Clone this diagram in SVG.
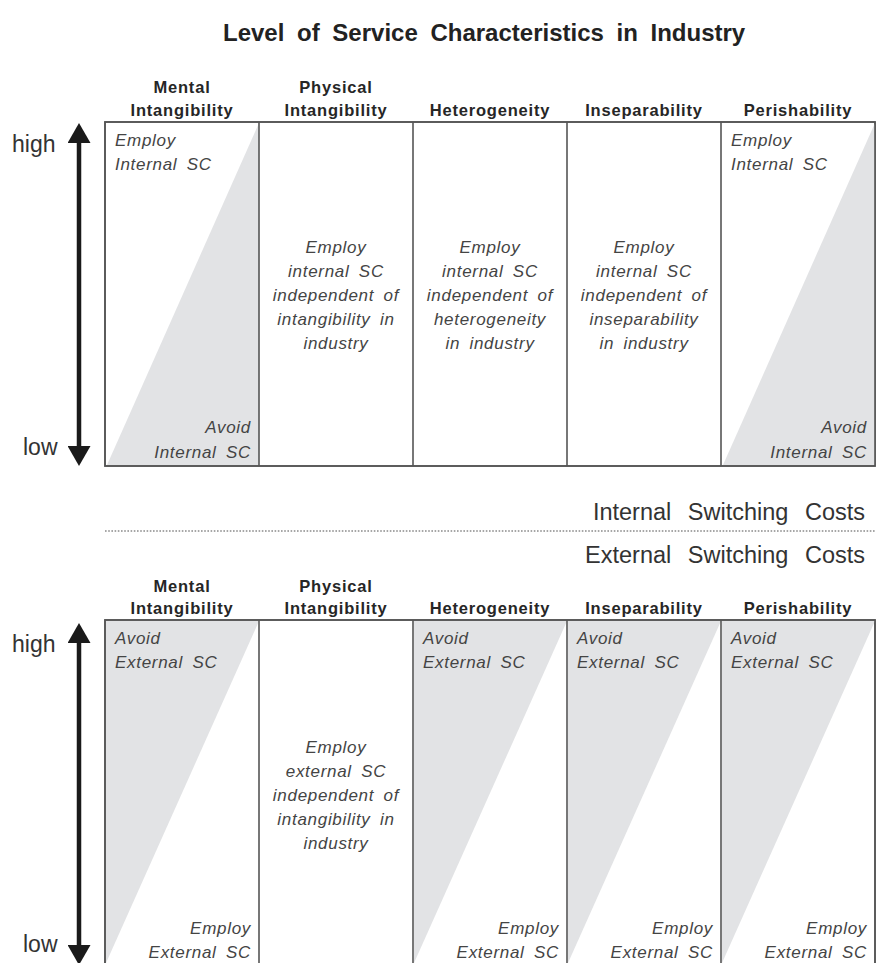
<svg xmlns="http://www.w3.org/2000/svg" width="876" height="963" viewBox="0 0 876 963">
  <style>
    .title { font-family: "Liberation Sans", Arial, sans-serif; font-weight: bold; font-size: 24px; fill: #222; word-spacing: 6px; }
    .hdr { font-family: "Liberation Sans", Arial, sans-serif; font-weight: bold; font-size: 16.5px; fill: #262626; letter-spacing: 0.8px; text-anchor: middle; }
    .axis { font-family: "Liberation Sans", Arial, sans-serif; font-size: 23px; fill: #333; }
    .band { font-family: "Liberation Sans", Arial, sans-serif; font-size: 23.5px; fill: #333; word-spacing: 10px; text-anchor: end; }
    .cell { font-family: "Liberation Sans", Arial, sans-serif; font-style: italic; font-size: 17px; fill: #444; letter-spacing: 0.7px; word-spacing: 4px; }
    .mid { text-anchor: middle; }
    .end { text-anchor: end; }
    .frame { fill: #fff; stroke: #555; stroke-width: 1.6; }
    .shade { fill: #e2e3e5; }
    .axisline { stroke: #1a1a1a; stroke-width: 4.5; marker-start: url(#head); marker-end: url(#head); }
  </style>
  <defs>
    <marker id="head" viewBox="0 0 20 23" markerWidth="20" markerHeight="23" refX="10" refY="11.5" markerUnits="userSpaceOnUse" orient="auto-start-reverse">
      <path d="M0,0 L20,11.5 L0,23 Z" fill="#1a1a1a"/>
    </marker>
  </defs>

  <rect width="876" height="963" fill="#fff"/>

  <text class="title" x="223" y="41">Level of Service Characteristics in Industry</text>

  <!-- Upper matrix: internal switching costs -->
  <g id="internal-table">
    <rect class="frame" x="105" y="122" width="770" height="344"/>
    <polygon class="shade" points="107,465 259,123 259,465"/>
    <polygon class="shade" points="723,465 875,123 875,465"/>
    <g fill="none" stroke="#555" stroke-width="1.6">
      <rect x="105" y="122" width="770" height="344"/>
      <line x1="259" y1="122" x2="259" y2="466"/>
      <line x1="413" y1="122" x2="413" y2="466"/>
      <line x1="567" y1="122" x2="567" y2="466"/>
      <line x1="721" y1="122" x2="721" y2="466"/>
    </g>
  </g>

  <g id="internal-headers">
    <text class="hdr" x="182" y="93">Mental</text>
    <text class="hdr" x="182" y="116">Intangibility</text>
    <text class="hdr" x="336" y="93">Physical</text>
    <text class="hdr" x="336" y="116">Intangibility</text>
    <text class="hdr" x="490" y="116">Heterogeneity</text>
    <text class="hdr" x="644" y="116">Inseparability</text>
    <text class="hdr" x="798" y="116">Perishability</text>
  </g>

  <g id="internal-mental">
    <text class="cell" x="115" y="146">Employ</text>
    <text class="cell" x="115" y="170">Internal SC</text>
    <text class="cell end" x="251" y="433">Avoid</text>
    <text class="cell end" x="251" y="458">Internal SC</text>
  </g>
  <g id="internal-physical">
    <text class="cell mid" x="336" y="253">Employ</text>
    <text class="cell mid" x="336" y="277">internal SC</text>
    <text class="cell mid" x="336" y="301">independent of</text>
    <text class="cell mid" x="336" y="325">intangibility in</text>
    <text class="cell mid" x="336" y="349">industry</text>
  </g>
  <g id="internal-heterogeneity">
    <text class="cell mid" x="490" y="253">Employ</text>
    <text class="cell mid" x="490" y="277">internal SC</text>
    <text class="cell mid" x="490" y="301">independent of</text>
    <text class="cell mid" x="490" y="325">heterogeneity</text>
    <text class="cell mid" x="490" y="349">in industry</text>
  </g>
  <g id="internal-inseparability">
    <text class="cell mid" x="644" y="253">Employ</text>
    <text class="cell mid" x="644" y="277">internal SC</text>
    <text class="cell mid" x="644" y="301">independent of</text>
    <text class="cell mid" x="644" y="325">inseparability</text>
    <text class="cell mid" x="644" y="349">in industry</text>
  </g>
  <g id="internal-perishability">
    <text class="cell" x="731" y="146">Employ</text>
    <text class="cell" x="731" y="170">Internal SC</text>
    <text class="cell end" x="867" y="433">Avoid</text>
    <text class="cell end" x="867" y="458">Internal SC</text>
  </g>

  <g id="internal-axis">
    <text class="axis" x="12" y="152">high</text>
    <text class="axis" x="23" y="455">low</text>
  </g>

  <!-- Divider between the two matrices -->
  <g id="divider">
    <text class="band" x="865" y="520">Internal Switching Costs</text>
    <line x1="105" y1="531" x2="875" y2="531" stroke="#8a8a8a" stroke-width="1.6" stroke-dasharray="1.6 1.6"/>
    <text class="band" x="865" y="563">External Switching Costs</text>
  </g>

  <!-- Lower matrix: external switching costs -->
  <g id="external-table">
    <rect class="frame" x="105" y="620" width="770" height="360"/>
    <polygon class="shade" points="106,621 259,621 106,963"/>
    <polygon class="shade" points="414,621 567,621 414,963"/>
    <polygon class="shade" points="568,621 721,621 568,963"/>
    <polygon class="shade" points="722,621 875,621 722,963"/>
    <g fill="none" stroke="#555" stroke-width="1.6">
      <rect x="105" y="620" width="770" height="360"/>
      <line x1="259" y1="620" x2="259" y2="963"/>
      <line x1="413" y1="620" x2="413" y2="963"/>
      <line x1="567" y1="620" x2="567" y2="963"/>
      <line x1="721" y1="620" x2="721" y2="963"/>
    </g>
  </g>

  <g id="external-headers">
    <text class="hdr" x="182" y="592">Mental</text>
    <text class="hdr" x="182" y="614">Intangibility</text>
    <text class="hdr" x="336" y="592">Physical</text>
    <text class="hdr" x="336" y="614">Intangibility</text>
    <text class="hdr" x="490" y="614">Heterogeneity</text>
    <text class="hdr" x="644" y="614">Inseparability</text>
    <text class="hdr" x="798" y="614">Perishability</text>
  </g>

  <g id="external-mental">
    <text class="cell" x="115" y="644">Avoid</text>
    <text class="cell" x="115" y="668">External SC</text>
    <text class="cell end" x="251" y="934">Employ</text>
    <text class="cell end" x="251" y="958">External SC</text>
  </g>
  <g id="external-physical">
    <text class="cell mid" x="336" y="753">Employ</text>
    <text class="cell mid" x="336" y="777">external SC</text>
    <text class="cell mid" x="336" y="801">independent of</text>
    <text class="cell mid" x="336" y="825">intangibility in</text>
    <text class="cell mid" x="336" y="849">industry</text>
  </g>
  <g id="external-heterogeneity">
    <text class="cell" x="423" y="644">Avoid</text>
    <text class="cell" x="423" y="668">External SC</text>
    <text class="cell end" x="559" y="934">Employ</text>
    <text class="cell end" x="559" y="958">External SC</text>
  </g>
  <g id="external-inseparability">
    <text class="cell" x="577" y="644">Avoid</text>
    <text class="cell" x="577" y="668">External SC</text>
    <text class="cell end" x="713" y="934">Employ</text>
    <text class="cell end" x="713" y="958">External SC</text>
  </g>
  <g id="external-perishability">
    <text class="cell" x="731" y="644">Avoid</text>
    <text class="cell" x="731" y="668">External SC</text>
    <text class="cell end" x="867" y="934">Employ</text>
    <text class="cell end" x="867" y="958">External SC</text>
  </g>

  <g id="external-axis">
    <text class="axis" x="12" y="652">high</text>
    <text class="axis" x="23" y="952">low</text>
  </g>

  <!-- Vertical high/low scale arrows -->
  <g id="connectors">
    <line class="axisline" x1="79" y1="133" x2="79" y2="456"/>
    <line class="axisline" x1="79" y1="633" x2="79" y2="955"/>
  </g>
</svg>
